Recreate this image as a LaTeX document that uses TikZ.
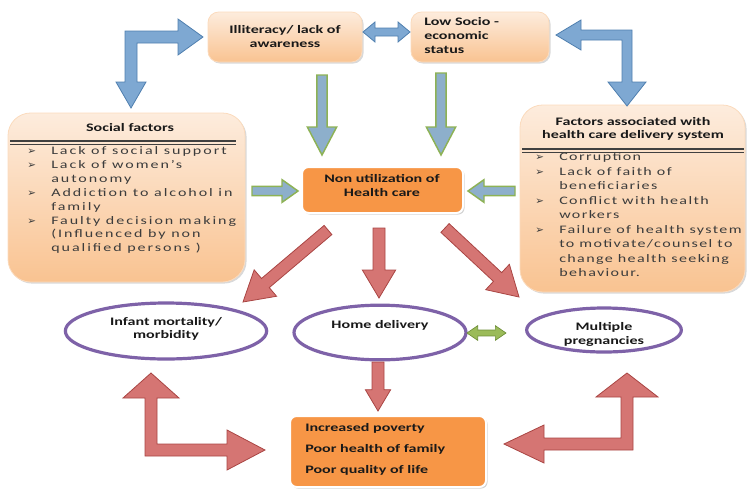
\documentclass[tikz,border=0pt]{standalone}
\usepackage{fontspec}
\setmainfont{Carlito}[FakeStretch=1.4]
\newfontfamily\itemfont{Carlito}[FakeStretch=1.4,LetterSpace=12]
\newfontfamily\itemfontw{Carlito}[FakeStretch=1.4,LetterSpace=17]
\newfontfamily\bulfont{DejaVu Sans}
\usetikzlibrary{calc,shadows,shapes.geometric}
\definecolor{peachA}{HTML}{FDECDD}
\definecolor{peachB}{HTML}{F9C391}
\definecolor{orangeF}{HTML}{F79646}
\definecolor{blueF}{HTML}{7EA8D2}
\definecolor{blueD}{HTML}{4F7FAF}
\definecolor{greyblue}{HTML}{8DAFCB}
\definecolor{greenD}{HTML}{8DB255}
\definecolor{greenF}{HTML}{9BBB59}
\definecolor{greenDD}{HTML}{6E8F38}
\definecolor{redF}{HTML}{D57573}
\definecolor{redD}{HTML}{A94543}
\definecolor{purp}{HTML}{7E62A8}
\definecolor{txtgray}{HTML}{3C3C3C}
\newcommand\bul{\makebox[18pt][l]{\bulfont\fontsize{7.8}{7.8}\selectfont ➢}}
\newcommand\ind{\hspace*{18pt}}
% block arrow: [style]{A}{B}{half shaft}{half head}{head length}
\newcommand\barrow[6][]{%
  \coordinate (bac) at ($(#3)!#6!(#2)$);
  \path[#1] ($(#2)!#4!90:(#3)$) -- ($(bac)!#4!90:(#3)$) -- ($(bac)!#5!90:(#3)$)
    -- (#3) -- ($(bac)!#5!-90:(#3)$) -- ($(bac)!#4!-90:(#3)$) -- ($(#2)!#4!-90:(#3)$) -- cycle;}
\newcommand\dbarrow[6][]{%
  \coordinate (bca) at ($(#2)!#6!(#3)$);
  \coordinate (bcb) at ($(#3)!#6!(#2)$);
  \path[#1] (#2) -- ($(bca)!#5!90:(#3)$) -- ($(bca)!#4!90:(#3)$) -- ($(bcb)!#4!90:(#3)$)
    -- ($(bcb)!#5!90:(#3)$) -- (#3) -- ($(bcb)!#5!-90:(#3)$) -- ($(bcb)!#4!-90:(#3)$)
    -- ($(bca)!#4!-90:(#3)$) -- ($(bca)!#5!-90:(#3)$) -- cycle;}
\begin{document}
\begin{tikzpicture}[x=0.75pt,y=-0.75pt,
  font=\fontsize{8.6}{10.3}\selectfont\bfseries,
  peachbox/.style={draw=peachB!60!white, line width=0.6pt, top color=peachA, bottom color=peachB,
    drop shadow={opacity=0.3,shadow xshift=1.2pt,shadow yshift=-1.2pt}, inner sep=0pt},
  orangebox/.style={fill=orangeF, draw=white, line width=1.5pt, rounded corners=5pt, inner sep=0pt,
    drop shadow={opacity=0.35,shadow xshift=1.2pt,shadow yshift=-1.2pt}},
  oval/.style={ellipse, draw=purp, line width=2.4pt, fill=white, inner sep=0pt},
  txt/.style={inner sep=0pt, text=black!90},
  itemtxt/.style={inner sep=0pt, align=left, text=txtgray, font=\itemfont\mdseries\fontsize{8.6}{10.4}\selectfont},
  bluearrow/.style={fill=blueF, draw=blueD, line width=0.6pt, line join=miter},
  grnarrow/.style={fill=greyblue, draw=greenD, line width=1.1pt, line join=miter},
  redarrow/.style={fill=redF, draw=redD, line width=0.6pt, line join=miter},
  greenarrow/.style={fill=greenF, draw=greenDD, line width=0.5pt, line join=miter},
  rulethick/.style={draw=black!75, line width=1.5pt},
  rulethin/.style={draw=black!75, line width=0.5pt}]
\useasboundingbox (0,0) rectangle (748,489);

% ---------- top boxes ----------
\node[peachbox, rounded corners=8pt, minimum width=115.5pt, minimum height=37.5pt] (illit) at (285,37) {};
\node[txt, align=center, font=\fontsize{8.6}{9.8}\selectfont\bfseries] (illitT) at (285,36.5) {Illiteracy/ lack of\\awareness};
\node[peachbox, rounded corners=8pt, minimum width=103.5pt, minimum height=37.5pt] (lowse) at (480,37) {};
\node[txt, align=left, anchor=west, font=\fontsize{8.6}{10.5}\selectfont\bfseries] (lowseT) at (424,36) {Low Socio -\\economic\\status};

% ---------- side boxes ----------
\node[peachbox, rounded corners=17pt, minimum width=177.75pt, minimum height=126.75pt] (social) at (126.5,197.5) {};
\node[txt] (socialT) at (130,128) {Social factors};
\draw[rulethick] (10,141) -- (236,141);
\draw[rulethin] (10,144.5) -- (236,144.5);
\node[itemtxt, anchor=north west, font=\itemfontw\mdseries\fontsize{8.6}{10.4}\selectfont] (socialL) at (27,146.5)
  {\bul Lack of social support\\
   \bul Lack of women’s\\
   \ind autonomy\\
   \bul Addiction to alcohol in\\
   \ind family\\
   \bul Faulty decision making\\
   \ind (Influenced by non\\
   \ind qualified persons )};

\node[peachbox, rounded corners=17pt, minimum width=168.75pt, minimum height=140.25pt] (health) at (632.5,198.5) {};
\node[txt, align=center, font=\fontsize{8.6}{9.8}\selectfont\bfseries] (healthT) at (633,128.5) {Factors associated with\\health care delivery system};
\draw[rulethick] (522,148.5) -- (744,148.5);
\draw[rulethin] (522,152) -- (744,152);
\node[itemtxt, anchor=north west, font=\itemfont\mdseries\fontsize{8.6}{10.9}\selectfont] (healthL) at (535,152.5)
  {\bul Corruption\\
   \bul Lack of faith of\\
   \ind beneficiaries\\
   \bul Conflict with health\\
   \ind workers\\
   \bul Failure of health system\\
   \ind to motivate/counsel to\\
   \ind change health seeking\\
   \ind behaviour.};

% ---------- centre box ----------
\node[orangebox, minimum width=120.75pt, minimum height=34.5pt] (nonutil) at (382.5,190) {};
\node[txt, align=center, font=\fontsize{8.6}{11.2}\selectfont\bfseries] (nonutilT) at (382,185.5) {Non utilization of\\Health care};

% ---------- ellipses ----------
\node[oval, minimum width=151pt, minimum height=42pt] (infant) at (166,331) {};
\node[txt, align=center, font=\fontsize{8.6}{9.8}\selectfont\bfseries] (infantT) at (166,328.5) {Infant mortality/\\morbidity};
\node[oval, minimum width=129pt, minimum height=41pt] (home) at (380,332.5) {};
\node[txt] (homeT) at (380,325) {Home delivery};
\node[oval, minimum width=116pt, minimum height=33pt] (multi) at (604,330) {};
\node[txt, align=center, font=\fontsize{8.6}{11}\selectfont\bfseries] (multiT) at (604,334.5) {Multiple\\pregnancies};

% ---------- bottom box ----------
\node[orangebox, minimum width=147pt, minimum height=53.25pt] (bottom) at (388,451.5) {};
\node[txt, align=left, anchor=west, font=\fontsize{8.6}{15.8}\selectfont\bfseries] (bottomT) at (305,449) {Increased poverty\\Poor health of family\\Poor quality of life};

% ---------- arrow end points ----------
\coordinate (dA) at (363,32);   \coordinate (dB) at (410,32);
\coordinate (v1a) at (322,75);  \coordinate (v1b) at (322,155);
\coordinate (v2a) at (441,73);  \coordinate (v2b) at (441,155);
\coordinate (s1a) at (252,191); \coordinate (s1b) at (298,191);
\coordinate (s2a) at (515,191); \coordinate (s2b) at (468,191);
\coordinate (r1a) at (328,230); \coordinate (r1b) at (243,302);
\coordinate (r2a) at (379,228); \coordinate (r2b) at (379,298);
\coordinate (r3a) at (445,228); \coordinate (r3b) at (519,297);
\coordinate (r4a) at (378,362); \coordinate (r4b) at (378,411);
\coordinate (gA) at (467,333);  \coordinate (gB) at (506,333);

% ---------- arrows ----------
\dbarrow[bluearrow]{dA}{dB}{3pt}{7.5pt}{9pt}
\barrow[grnarrow]{v1a}{v1b}{3.8pt}{11pt}{21pt}
\barrow[grnarrow]{v2a}{v2b}{3.8pt}{11pt}{21pt}
\barrow[grnarrow]{s1a}{s1b}{3.4pt}{8.5pt}{12pt}
\barrow[grnarrow]{s2a}{s2b}{3.4pt}{8.5pt}{12pt}
\barrow[redarrow]{r1a}{r1b}{4.5pt}{13pt}{22pt}
\barrow[redarrow]{r2a}{r2b}{4.5pt}{12.5pt}{21pt}
\barrow[redarrow]{r3a}{r3b}{4.5pt}{13pt}{22pt}
\barrow[redarrow]{r4a}{r4b}{4.5pt}{9.5pt}{16pt}
\dbarrow[greenarrow]{gA}{gB}{2.2pt}{5.5pt}{8pt}

% elbow arrows
\path[bluearrow] (125,82) -- (116,82) -- (131,108) -- (146,82) -- (137,82) -- (137,43)
  -- (178,43) -- (178,55) -- (203,37) -- (178,19) -- (178,31) -- (125,31) -- cycle;
\path[bluearrow] (581,30) -- (632,30) -- (632,82) -- (646,82) -- (627,106) -- (608,82)
  -- (622,82) -- (622,40) -- (581,40) -- (581,50) -- (556,35) -- (581,20) -- cycle;
\path[redarrow] (145,398) -- (123,398) -- (151,373) -- (179,398) -- (157,398) -- (157,444)
  -- (227,444) -- (227,430) -- (265,450) -- (227,470) -- (227,456) -- (145,456) -- cycle;
\path[redarrow] (544,438) -- (621,438) -- (621,397) -- (596,397) -- (627,373) -- (658,397)
  -- (633,397) -- (633,450) -- (544,450) -- (544,463) -- (504,444) -- (544,425) -- cycle;
\end{tikzpicture}
\end{document}
